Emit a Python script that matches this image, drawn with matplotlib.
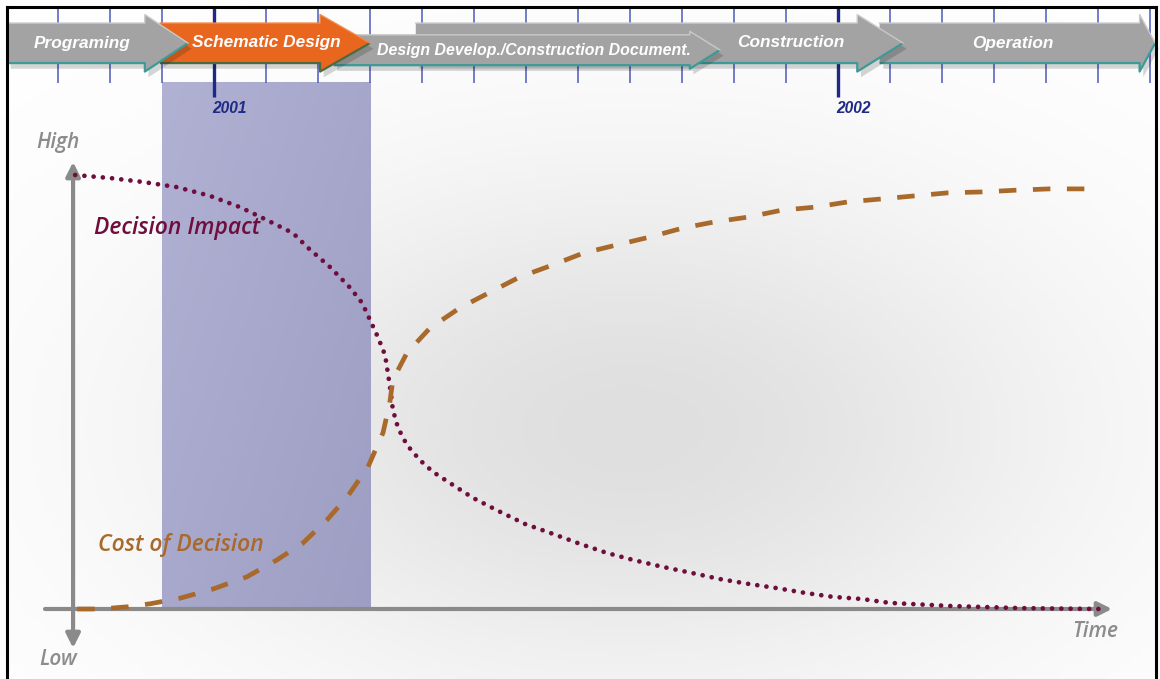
import numpy as np
import matplotlib
matplotlib.use("Agg")
import matplotlib.pyplot as plt
from matplotlib.patches import Polygon
from matplotlib.lines import Line2D

# ---------------- data ----------------
# time in months relative to Jan 2001, level in % (0 = Low, 100 = High)
impact_t = [-2.67, -2.00, -1.37, -0.71, -0.08, 0.50, 1.02, 1.52, 1.81, 2.23, 2.62, 2.85,
            3.00, 3.15, 3.29, 3.35, 3.40, 3.44, 3.54, 3.71, 3.96, 4.21, 4.54, 4.98, 5.50,
            5.98, 6.52, 7.04, 7.56, 8.06, 8.63, 9.19, 9.73, 10.27, 10.83, 11.37, 11.90,
            12.46, 13.00, 14.15, 15.50, 17.04]
impact_v = [100.0, 99.3, 98.4, 97.2, 95.2, 92.6, 89.6, 86.6, 83.2, 78.8, 74.0, 70.5,
            66.6, 62.7, 58.5, 53.9, 49.8, 45.9, 41.7, 37.8, 34.3, 31.6, 29.0, 25.6, 22.4,
            19.6, 17.3, 15.0, 12.9, 11.3, 9.7, 8.3, 6.9, 5.8, 4.8, 3.7, 2.8,
            2.3, 1.4, 0.7, 0.2, 0.0]

cost_t = [-2.63, -2.19, -1.67, -1.23, -0.65, -0.02, 0.63, 1.21, 1.71, 2.17, 2.56, 2.96,
          3.25, 3.38, 3.44, 3.71, 4.15, 4.73, 5.31, 5.88, 6.52, 7.10, 7.75, 8.38, 9.02,
          9.63, 10.27, 10.92, 11.56, 12.19, 12.85, 13.48, 14.12, 14.77, 15.42, 16.06, 16.90]
cost_v = [0.0, 0.0, 0.5, 1.2, 2.5, 4.6, 7.4, 11.3, 15.2, 20.5, 25.8, 32.7,
          40.6, 47.5, 52.8, 59.0, 64.7, 69.4, 73.0, 76.5, 79.3, 82.0, 83.9, 85.7, 87.8,
          89.2, 90.3, 91.9, 92.6, 93.8, 94.5, 95.2, 95.9, 96.1, 96.5, 96.8, 96.8]

# phases: name, start month, end month (tip)
phase_names = ["Programing", "Schematic Design", "Design Develop./Construction Document.",
               "Construction", "Operation"]
phase_start = [-3.98, -1.04, 2.3, 3.88, 12.8]
phase_end = [-0.5, 3.0, 9.73, 13.25, 18.1]

year_labels = ["2001", "2002"]
year_months = [0, 12]
month_ticks = list(range(-3, 19))

highlight_start, highlight_end = -1.0, 3.0   # Schematic Design window

# ---------------- figure ----------------
W, H = 1160, 679
fig = plt.figure(figsize=(W / 100, H / 100), dpi=100)
ax = fig.add_axes([0, 0, 1, 1])
X0, X1 = -214 / 52, (W - 214) / 52
Y0, Y1 = (609 - H) / 4.34, 609 / 4.34
ax.set_xlim(X0, X1)
ax.set_ylim(Y0, Y1)
ax.axis("off")

# background radial gradient
gx = np.linspace(0, W, 300)
gy = np.linspace(0, H, 180)
GX, GY = np.meshgrid(gx, gy)
r2 = ((GX - 630) / 560) ** 2 + ((GY - 430) / 330) ** 2
val = 1.0 - 0.125 * np.exp(-1.6 * r2)
img = np.dstack([val, val, val])
ax.imshow(img, extent=[X0, X1, Y0, Y1], origin="upper", aspect="auto", zorder=0)

# highlight band gradient
bx = np.linspace(0, 1, 50)
by = np.linspace(0, 1, 100)
BX, BY = np.meshgrid(bx, by)
c0 = np.array([0.690, 0.694, 0.827])
c1 = np.array([0.620, 0.620, 0.768])
t = np.clip(0.55 * BX + 0.45 * BY, 0, 1)[..., None]
band = c0 * (1 - t) + c1 * t
ax.imshow(band, extent=[highlight_start, highlight_end, 0, 121.2], origin="upper",
          aspect="auto", zorder=1)

# month ticks
for m in month_ticks:
    if m in year_months:
        ax.plot([m, m], [118.0, 138.7], color="#1e2a86", lw=2.4, zorder=2,
                solid_capstyle="butt")
    else:
        ax.plot([m, m], [121.2, 138.7], color="#5a66c0", lw=1.2, zorder=2,
                solid_capstyle="butt")
for lab, m in zip(year_labels, year_months):
    ax.text(m + 0.29, 115.4, lab, color="#1e2a86", fontsize=11.2, fontweight="bold",
            fontstyle="italic", family="Liberation Sans", ha="center", va="center", zorder=3)


def arrow_poly(x0, x1, hl, yc, bh, hh):
    return [(x0, yc + bh), (x1 - hl, yc + bh), (x1 - hl, yc + hh), (x1, yc),
            (x1 - hl, yc - hh), (x1 - hl, yc - bh), (x0, yc - bh)]


gray_face = "#a3a3a3"
teal = "#3d9a98"
specs = [
    # index, head length, y centre, body half, head half, face, z
    (4, 0.30, 130.4, 4.61, 6.57, gray_face, 4),
    (3, 0.88, 130.4, 4.61, 6.57, gray_face, 5),
    (2, 0.58, 128.8, 3.50, 4.30, gray_face, 6),
    (1, 0.96, 130.4, 4.61, 6.57, "#e8661e", 7),
    (0, 0.83, 130.4, 4.61, 6.57, gray_face, 8),
]
label_pos = {0: (-2.54, 130.4, 12.4), 1: (1.0, 130.6, 12.4), 2: (6.15, 128.6, 11.4),
             3: (11.1, 130.6, 12.4), 4: (15.37, 130.4, 12.4)}
for i, hl, yc, bh, hh, face, z in specs:
    x0, x1 = phase_start[i], phase_end[i]
    pts = arrow_poly(x0, x1, hl, yc, bh, hh)
    sh = [(px + 0.07, py - 1.3) for px, py in pts]
    ax.add_patch(Polygon(sh, closed=True, facecolor="black", alpha=0.16, lw=0, zorder=z))
    ax.add_patch(Polygon(pts, closed=True, facecolor=face, edgecolor="none", zorder=z))
    edge_col = "#4d6b3e" if i == 1 else teal
    ax.plot([x0, x1 - hl, x1 - hl, x1], [yc - bh, yc - bh, yc - hh, yc],
            color=edge_col, lw=1.6, zorder=z, solid_capstyle="butt")
    ax.plot([x0, x1 - hl, x1 - hl, x1], [yc + bh, yc + bh, yc + hh, yc],
            color="#c9c9c9" if i != 1 else "#f08a4a", lw=1.0, zorder=z)
    lx, ly, fs = label_pos[i]
    ax.text(lx, ly, phase_names[i], color="white", fontsize=fs, fontweight="bold",
            fontstyle="italic", family="Liberation Sans", ha="center", va="center",
            zorder=z + 0.5)

# axes arrows
axis_col = "#8a8a8a"
ax.annotate("", xy=(-2.71, 103.0), xytext=(-2.71, -9.0), zorder=10,
            arrowprops=dict(arrowstyle="<|-|>", color=axis_col, lw=3.0,
                            mutation_scale=21, shrinkA=0, shrinkB=0))
ax.annotate("", xy=(17.27, 0.0), xytext=(-3.25, 0.0), zorder=10,
            arrowprops=dict(arrowstyle="-|>", color=axis_col, lw=3.0,
                            mutation_scale=21, shrinkA=0, shrinkB=0))

# curves
ax.plot(impact_t, impact_v, color="#6f0d3d", lw=3.4, linestyle=(0, (0.01, 1.95)),
        dash_capstyle="round", zorder=11)
ax.plot(cost_t, cost_v, color="#a8692b", lw=3.4, linestyle=(0, (3.7, 3.5)),
        dash_capstyle="butt", zorder=11)

# labels
lab_font = dict(family="Open Sans", fontstyle="italic", fontweight="semibold", ha="center",
                va="center", zorder=12)
ax.text(-3.0, 107.4, "High", color="#8c8c8c", fontsize=15, **lab_font)
ax.text(-3.0, -11.75, "Low", color="#8c8c8c", fontsize=15, **lab_font)
ax.text(16.94, -5.1, "Time", color="#8c8c8c", fontsize=15, **lab_font)
ax.text(-0.71, 87.8, "Decision Impact", color="#6f0d3d", fontsize=16.5, **lab_font)
ax.text(-0.63, 14.7, "Cost of Decision", color="#a8692b", fontsize=16.5, **lab_font)

# black frame (left, top, right)
fig.add_artist(Line2D([7 / W, 7 / W], [0, 1 - 7 / H], color="black", lw=2.2))
fig.add_artist(Line2D([7 / W, 1156 / W], [1 - 7 / H, 1 - 7 / H], color="black", lw=2.2))
fig.add_artist(Line2D([1156 / W, 1156 / W], [0, 1 - 7 / H], color="black", lw=2.2))

fig.savefig("out.png", dpi=100)
